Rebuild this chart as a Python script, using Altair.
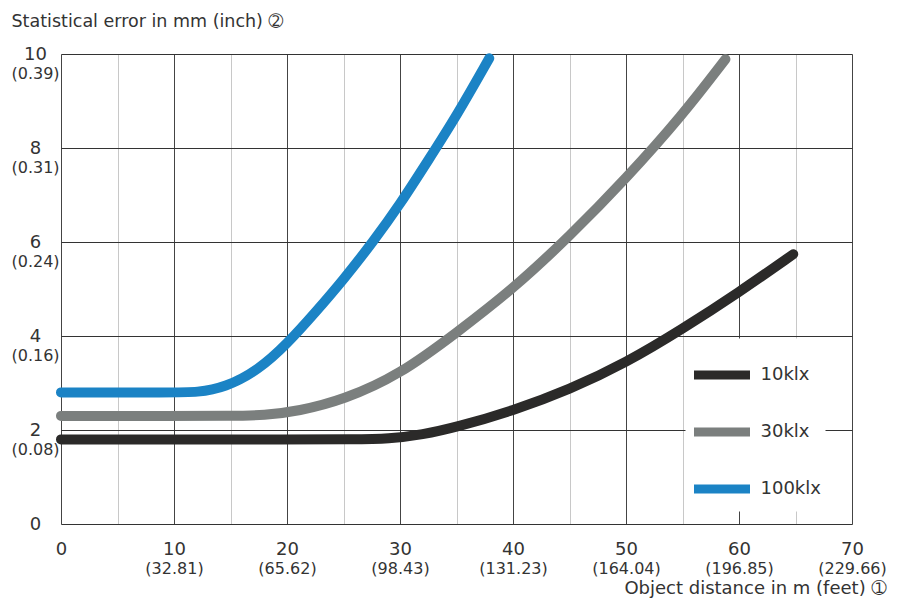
import json
import altair as alt
import pandas as pd

# ---------------- data ----------------
series_names = ["10klx", "30klx", "100klx"]
series_colors = ["#2b2a29", "#7b7f7e", "#1b83c5"]

dist_10klx = [0, 10, 20, 26, 29, 32, 35, 40, 45, 50, 55, 60, 64.8]
err_10klx = [1.8, 1.8, 1.8, 1.8, 1.81, 1.9, 2.06, 2.41, 2.86, 3.43, 4.15, 4.93, 5.74]

dist_30klx = [0, 10, 15, 18, 21, 25, 30, 35, 40, 45, 50, 55, 58.8]
err_30klx = [2.3, 2.3, 2.3, 2.31, 2.4, 2.64, 3.18, 4.07, 5.0, 6.12, 7.35, 8.7, 9.89]

dist_100klx = [0, 10, 12, 14.5, 17.5, 20, 22.5, 25, 27.6, 30, 32.5, 35, 37.9]
err_100klx = [2.8, 2.8, 2.8, 2.9, 3.28, 3.83, 4.5, 5.2, 6.0, 6.8, 7.74, 8.68, 9.91]

x_grid_values = [0, 5, 10, 15, 20, 25, 30, 35, 40, 45, 50, 55, 60, 65, 70]
x_label_values = [0, 10, 20, 30, 40, 50, 60, 70]
x_main_labels = ["0", "10", "20", "30", "40", "50", "60", "70"]
x_feet_labels = ["", "(32.81)", "(65.62)", "(98.43)", "(131.23)", "(164.04)", "(196.85)", "(229.66)"]

y_label_values = [0, 2, 4, 6, 8, 10]
y_main_labels = ["0", "2", "4", "6", "8", "10"]
y_inch_labels = ["", "(0.08)", "(0.16)", "(0.24)", "(0.31)", "(0.39)"]

x_title = "Object distance in m (feet) \u2780"
y_title = "Statistical error in mm (inch) \u2781"

# ---------------- table ----------------
rows = []
for name, xs, ys in [("10klx", dist_10klx, err_10klx),
                     ("30klx", dist_30klx, err_30klx),
                     ("100klx", dist_100klx, err_100klx)]:
    for xv, yv in zip(xs, ys):
        rows.append({"series": name, "dist": xv, "err": yv})
df = pd.DataFrame(rows)


def label_expr(values, labels):
    v = json.dumps(values)
    l = json.dumps(labels)
    return f"indexof({v}, datum.value) >= 0 ? {l}[indexof({v}, datum.value)] : ''"


FONT = "DejaVu Sans"
TXT = "#333333"

x_scale = alt.Scale(domain=[0, 70], nice=False, zero=True)
y_scale = alt.Scale(domain=[0, 10], nice=False, zero=True)

main_x_axis = alt.Axis(
    values=x_grid_values,
    labelExpr=label_expr(x_label_values, x_main_labels),
    grid=True,
    gridColor={"condition": {"test": "datum.value % 10 === 0", "value": "#444444"},
               "value": "#c8c8c8"},
    gridWidth=1,
    ticks=False, tickSize=0, domain=False,
    labelFont=FONT, labelFontSize=18, labelColor=TXT,
    labelPadding=16, labelBaseline="top", labelAlign="center",
    labelFlush=False, labelOverlap=False,
    title=x_title, titleFont=FONT, titleFontSize=18, titleFontWeight="normal",
    titleColor=TXT, titleAlign="right", titleBaseline="middle",
    titleX=825, titleY=64, titleAnchor="end",
)

sub_x_axis = alt.Axis(
    orient="bottom",
    values=x_label_values,
    labelExpr=label_expr(x_label_values, x_feet_labels),
    grid=False, ticks=False, tickSize=0, domain=False,
    labelFont=FONT, labelFontSize=16, labelColor=TXT,
    labelPadding=36, labelBaseline="top", labelAlign="center",
    labelFlush=False, labelOverlap=False,
    title=None,
)

main_y_axis = alt.Axis(
    values=y_label_values,
    labelExpr=label_expr(y_label_values, y_main_labels),
    grid=True, gridColor="#333333", gridWidth=1,
    ticks=False, tickSize=0, domain=False,
    labelFont=FONT, labelFontSize=18, labelColor=TXT,
    labelPadding=26, labelAlign="center", labelBaseline="middle",
    labelFlush=True, labelOverlap=False,
    title=y_title, titleFont=FONT, titleFontSize=17.5, titleFontWeight="normal",
    titleColor=TXT, titleAngle=0, titleAlign="left", titleBaseline="middle",
    titleX=-50, titleY=-33,
)

sub_y_axis = alt.Axis(
    orient="left",
    values=y_label_values,
    labelExpr=label_expr(y_label_values, y_inch_labels),
    grid=False, ticks=False, tickSize=0, domain=False,
    labelFont=FONT, labelFontSize=16, labelColor=TXT,
    labelPadding=26, labelAlign="center", labelBaseline="middle",
    labelOffset=19, labelFlush=False, labelOverlap=False,
    title=None,
)

legend = alt.Legend(
    title=None, orient="none", legendX=624.5, legendY=284.5,
    fillColor="white", padding=4,
    symbolType="stroke", symbolSize=3136, symbolStrokeWidth=9,
    rowPadding=6, labelOffset=6,
    labelFont=FONT, labelFontSize=18, labelColor=TXT,
)

lines = alt.Chart(df).mark_line(
    strokeWidth=10, strokeCap="round", strokeJoin="round", interpolate="basis"
).encode(
    x=alt.X("dist:Q", scale=x_scale, axis=main_x_axis),
    y=alt.Y("err:Q", scale=y_scale, axis=main_y_axis),
    color=alt.Color("series:N", scale=alt.Scale(domain=series_names, range=series_colors),
                    sort=series_names, legend=legend),
)

sub_axes = alt.Chart(df).mark_point(opacity=0).encode(
    x=alt.X("dist:Q", scale=x_scale, axis=sub_x_axis),
    y=alt.Y("err:Q", scale=y_scale, axis=sub_y_axis),
)

chart = alt.layer(lines, sub_axes).resolve_axis(
    x="independent", y="independent"
).properties(
    width=791, height=470,
    autosize=alt.AutoSizeParams(type="none"),
    padding={"left": 53, "top": 46, "right": 38, "bottom": 76},
).configure_view(
    stroke="#333333", strokeWidth=1
).configure(background="white")

chart.save("out.html", embed_options={"renderer": "svg", "actions": False})
